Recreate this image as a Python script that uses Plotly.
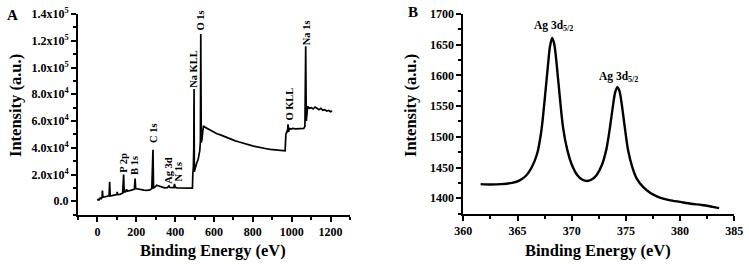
import plotly.graph_objects as go

# ---------- Panel A: XPS survey ----------
survey_energy = [0, 5, 10, 15, 20, 24, 26, 28, 35, 45, 55, 60, 63, 66, 75, 85, 95, 100, 102, 104,
                 115, 125, 130, 135, 138, 145, 150, 153, 165, 180, 190, 194, 197, 205, 215, 225,
                 240, 255, 270, 280, 286, 289, 295, 305, 315, 330, 345, 360, 368, 372, 385, 393,
                 397, 400, 410, 425, 440, 455, 470, 485, 489, 491, 494, 496, 497.5, 499, 502, 507,
                 512, 518, 522, 527, 530, 532, 534.5, 538, 542, 546, 552, 558, 570, 585, 600, 615,
                 630, 650, 670, 690, 710, 730, 750, 770, 790, 810, 830, 850, 870, 890, 910, 930,
                 950, 962, 966, 970, 975, 978, 981, 984, 988, 995, 1005, 1020, 1035, 1050, 1062,
                 1068, 1072, 1075, 1078, 1082, 1090, 1100, 1110, 1120, 1130, 1140, 1150, 1160,
                 1170, 1180, 1190, 1200, 1208]
survey_intensity = [500, 1500, 1200, 2500, 2000, 3000, 8000, 3000, 3200, 3500, 3600, 4000, 14500, 4000,
                    4200, 4500, 4700, 5000, 7000, 5000, 5200, 5600, 6000, 20000, 7000, 7200, 9000,
                    7500, 7800, 8500, 9000, 17000, 9500, 9200, 8800, 8600, 8300, 8200, 8500, 9500,
                    38500, 10000, 10500, 12000, 11500, 10500, 10000, 10200, 11500, 10300, 10000,
                    10200, 13000, 10500, 10000, 9900, 10000, 9800, 9900, 9800, 9900, 20000, 26000,
                    40000, 84000, 22000, 24000, 27000, 29000, 31000, 35000, 38000, 45000, 125000,
                    44000, 46000, 52000, 56500, 55500, 55000, 54000, 52500, 51500, 50500, 49800,
                    48500, 47500, 46500, 45200, 44300, 43300, 42500, 41800, 41000, 40300, 39800,
                    39300, 38800, 38400, 38000, 37700, 37500, 37800, 50000, 52000, 51500, 57500,
                    52000, 54500, 54000, 54500, 54200, 54300, 54000, 54500, 56000, 116000, 60000,
                    65000, 71000, 69500, 70000, 69000, 70500, 69500, 68500, 69500, 68000, 68500,
                    67500, 68000, 67000, 67500]

survey_labels = ["P 2p", "B 1s", "C 1s", "Ag 3d", "N 1s", "Na KLL", "O 1s", "O KLL", "Na 1s"]
survey_label_x = [133, 194, 286, 365, 418, 497, 532, 991, 1076]
survey_label_y = [29000, 26500, 51000, 23000, 22000, 99000, 135000, 73000, 126000]

a_xtick_vals = [0, 200, 400, 600, 800, 1000, 1200]
a_ytick_vals = [0, 20000, 40000, 60000, 80000, 100000, 120000, 140000]
a_ytick_text = ["0.0", "2.0x10<sup>4</sup>", "4.0x10<sup>4</sup>", "6.0x10<sup>4</sup>",
                "8.0x10<sup>4</sup>", "1.0x10<sup>5</sup>", "1.2x10<sup>5</sup>", "1.4x10<sup>5</sup>"]

# ---------- Panel B: Ag 3d ----------
ag_energy = [361.6, 362.5, 363.5, 364.5, 365.2, 365.8, 366.3, 366.8, 367.2, 367.5, 367.8, 368.0,
             368.2, 368.4, 368.6, 368.9, 369.2, 369.6, 370.0, 370.5, 371.0, 371.4, 371.8, 372.3,
             372.8, 373.2, 373.5, 373.8, 374.0, 374.2, 374.4, 374.6, 374.9, 375.2, 375.6, 376.0,
             376.6, 377.3, 378.0, 379.0, 380.0, 381.0, 382.0, 383.0, 383.6]
ag_intensity = [1423, 1422.5, 1423, 1425, 1429, 1437, 1450, 1472, 1510, 1560, 1615, 1648,
                1661, 1650, 1620, 1565, 1515, 1478, 1455, 1438, 1430, 1428, 1430, 1438,
                1455, 1480, 1512, 1550, 1572, 1581, 1575, 1555, 1515, 1478, 1450, 1432,
                1418, 1408, 1402, 1397, 1394, 1391, 1389, 1386, 1384]
ag_labels = ["Ag 3d<sub>5/2</sub>", "Ag 3d<sub>5/2</sub>"]
ag_label_x = [368.3, 374.3]
ag_label_y = [1680, 1598]
b_xtick_vals = [360, 365, 370, 375, 380, 385]
b_ytick_vals = [1400, 1450, 1500, 1550, 1600, 1650, 1700]

FONT = "Liberation Serif"


def bold(vals):
    return ["<b>" + str(v) + "</b>" for v in vals]


fig = go.Figure()
fig.add_trace(go.Scatter(x=survey_energy, y=survey_intensity, mode="lines",
                         line=dict(color="black", width=1.7), xaxis="x", yaxis="y",
                         showlegend=False))
fig.add_trace(go.Scatter(x=ag_energy, y=ag_intensity, mode="lines",
                         line=dict(color="black", width=2.4, shape="spline", smoothing=0.8),
                         xaxis="x2", yaxis="y2", showlegend=False))

axis_common = dict(showline=True, linecolor="black", linewidth=2, ticks="outside",
                   ticklen=5, tickwidth=1.5, tickcolor="black", showgrid=False, zeroline=False,
                   tickfont=dict(family=FONT, size=12, color="black"),
                   automargin=False, mirror=False)

fig.update_layout(
    width=749, height=265, margin=dict(l=0, r=0, t=0, b=0),
    paper_bgcolor="white", plot_bgcolor="white",
    xaxis=dict(domain=[0.1041, 0.4673], range=[-100, 1300], anchor="y",
               tickvals=a_xtick_vals, ticktext=bold(a_xtick_vals),
               minor=dict(ticks="outside", ticklen=3, tickcolor="black", dtick=100, tick0=0),
               **axis_common),
    yaxis=dict(domain=[0.19, 0.947], range=[-10000, 140000], anchor="x",
               tickvals=a_ytick_vals, ticktext=bold(a_ytick_text),
               minor=dict(ticks="outside", ticklen=3, tickcolor="black", dtick=10000, tick0=0),
               **axis_common),
    xaxis2=dict(domain=[0.6186, 0.9804], range=[360, 385], anchor="y2",
                tickvals=b_xtick_vals, ticktext=bold(b_xtick_vals),
                minor=dict(ticks="outside", ticklen=3, tickcolor="black", dtick=2.5, tick0=360),
                **axis_common),
    yaxis2=dict(domain=[0.194, 0.947], range=[1375, 1700], anchor="x2",
                tickvals=b_ytick_vals, ticktext=bold(b_ytick_vals),
                minor=dict(ticks="outside", ticklen=3, tickcolor="black", dtick=25, tick0=1400),
                **axis_common),
)

ann = []
for t, x, y in zip(survey_labels, survey_label_x, survey_label_y):
    ann.append(dict(x=x, y=y, xref="x", yref="y", text="<b>" + t + "</b>", showarrow=False,
                    textangle=-90, xanchor="center", yanchor="middle",
                    font=dict(family=FONT, size=10.5, color="black")))
for t, x, y in zip(ag_labels, ag_label_x, ag_label_y):
    ann.append(dict(x=x, y=y, xref="x2", yref="y2", text="<b>" + t + "</b>", showarrow=False,
                    xanchor="center", yanchor="middle",
                    font=dict(family=FONT, size=11.5, color="black")))


def paper_text(px, py, text, size=16.5, angle=0):
    return dict(x=px / 749, y=1 - py / 265, xref="paper", yref="paper", text=text,
                showarrow=False, textangle=angle, xanchor="center", yanchor="middle",
                font=dict(family=FONT, size=size, color="black"))


ann += [
    paper_text(213, 250, "<b>Binding Energy (eV)</b>"),
    paper_text(598, 250, "<b>Binding Energy (eV)</b>"),
    paper_text(15, 106, "<b>Intensity (a.u.)</b>", angle=-90),
    paper_text(410, 106, "<b>Intensity (a.u.)</b>", angle=-90),
    paper_text(12, 15, "<b>A</b>", size=15),
    paper_text(413, 12, "<b>B</b>", size=15),
]
fig.update_layout(annotations=ann)
fig.write_html("out.html", config={"displayModeBar": False},
               post_script="document.body.style.margin='0';document.body.style.padding='0';")
